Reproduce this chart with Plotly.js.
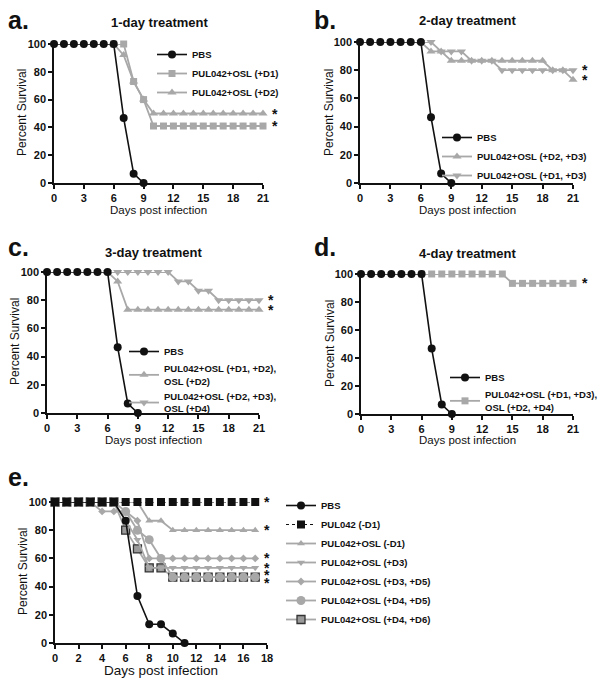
<!DOCTYPE html>
<html>
<head>
<meta charset="utf-8">
<script src="https://cdn.plot.ly/plotly-3.0.1.min.js"></script>
<style>
	html, body { margin: 0; padding: 0; background: #fff; }
	#plot { width: 604px; height: 688px; }
</style>
</head>
<body>
<div id="plot"></div>
<script>
// Curvas de supervivencia (paneles a-e) con Plotly.js
(function(){
	const W = 604, H = 688;
	const FONT = 'Arial, "Liberation Sans", sans-serif';
	const BLACK = '#111111';
	const GRAY = '#a8a8a8';

	// ---- panel a: 1-day treatment
	const daysPbs = [0, 1, 2, 3, 4, 5, 6, 7, 8, 9];
	const pbsSurv = [100, 100, 100, 100, 100, 100, 100, 46.7, 6.7, 0];
	const daysTrt = [6, 7, 8, 9, 10, 11, 12, 13, 14, 15, 16, 17, 18, 19, 20, 21];
	const aD1 = [100, 100, 73, 60, 41, 41, 41, 41, 41, 41, 41, 41, 41, 41, 41, 41];
	const aD2 = [100, 92, 73, 60, 50, 50, 50, 50, 50, 50, 50, 50, 50, 50, 50, 50];

	// ---- panel b: 2-day treatment
	const bD2D3 = [100, 93.3, 93.3, 86.7, 86.7, 86.7, 86.7, 86.7, 86.7, 86.7, 86.7, 86.7, 86.7, 80, 80, 73.3];
	const bD1D3 = [100, 100, 93.3, 93.3, 93.3, 86.7, 86.7, 86.7, 80, 80, 80, 80, 80, 80, 80, 80];

	// ---- panel c: 3-day treatment
	const cD1D2 = [100, 93.3, 73.3, 73.3, 73.3, 73.3, 73.3, 73.3, 73.3, 73.3, 73.3, 73.3, 73.3, 73.3, 73.3, 73.3];
	const cD2D3 = [100, 100, 100, 100, 100, 100, 100, 93.3, 93.3, 86.7, 86.7, 80, 80, 80, 80, 80];

	// ---- panel d: 4-day treatment
	const dD1D3 = [100, 100, 100, 100, 100, 100, 100, 100, 100, 93.3, 93.3, 93.3, 93.3, 93.3, 93.3, 93.3];

	// ---- panel e
	const daysE = [0, 1, 2, 3, 4, 5, 6, 7, 8, 9, 10, 11, 12, 13, 14, 15, 16, 17];
	const daysEPbs = [0, 1, 2, 3, 4, 5, 6, 7, 8, 9, 10, 11];
	const ePbs = [100, 100, 100, 100, 100, 100, 86.7, 33.3, 13.3, 13.3, 6.7, 0];
	const ePul = [100, 100, 100, 100, 100, 100, 100, 100, 100, 100, 100, 100, 100, 100, 100, 100, 100, 100];
	const eOslM1 = [100, 100, 100, 100, 100, 100, 100, 100, 86.7, 86.7, 80, 80, 80, 80, 80, 80, 80, 80];
	const eD3 = [100, 100, 100, 100, 100, 100, 86.7, 73.3, 53.3, 53.3, 53.3, 53.3, 53.3, 53.3, 53.3, 53.3, 53.3, 53.3];
	const eD3D5 = [100, 100, 100, 100, 93.3, 93.3, 93.3, 86.7, 60, 60, 60, 60, 60, 60, 60, 60, 60, 60];
	const eD4D5 = [100, 100, 100, 100, 100, 100, 93.3, 80, 73.3, 60, 46.7, 46.7, 46.7, 46.7, 46.7, 46.7, 46.7, 46.7];
	const eD4D6 = [100, 100, 100, 100, 100, 100, 80, 66.7, 53.3, 53.3, 46.7, 46.7, 46.7, 46.7, 46.7, 46.7, 46.7, 46.7];

	// pixel helpers
	function dx(x0, x1){ return [x0 / W, x1 / W]; }
	function dy(top, bottom){ return [1 - bottom / H, 1 - top / H]; }

	function makeX(dom, max, dtick, anchor){
		return {
			domain: dom, range: [0, max], dtick: dtick, tick0: 0, anchor: anchor,
			showline: true, linecolor: BLACK, linewidth: 1.5, mirror: false,
			ticks: 'outside', ticklen: 4, tickwidth: 1.5, tickcolor: BLACK,
			showgrid: false, zeroline: false, fixedrange: true,
			tickfont: {family: FONT, size: 11, color: BLACK, weight: 'bold'}
		};
	}
	function makeY(dom, anchor){
		return {
			domain: dom, range: [0, 100], dtick: 20, tick0: 0, anchor: anchor,
			showline: true, linecolor: BLACK, linewidth: 1.5,
			ticks: 'outside', ticklen: 4, tickwidth: 1.5, tickcolor: BLACK,
			showgrid: false, zeroline: false, fixedrange: true,
			tickfont: {family: FONT, size: 11, color: BLACK, weight: 'bold'}
		};
	}

	function series(x, y, name, n, legend, rank, mk, ln){
		return {
			x: x, y: y, name: name, type: 'scatter', mode: 'lines+markers',
			xaxis: n === 1 ? 'x' : 'x' + n, yaxis: n === 1 ? 'y' : 'y' + n,
			legend: legend, legendrank: rank, cliponaxis: false,
			line: Object.assign({color: GRAY, width: 1.8}, ln || {}),
			marker: mk, hoverinfo: 'x+y+name'
		};
	}
	const pbsMk = {symbol: 'circle', size: 8, color: BLACK};
	const pbsLn = {color: BLACK, width: 1.6};
	const sqMk = {symbol: 'square', size: 7, color: GRAY};
	const upMk = {symbol: 'triangle-up', size: 8, color: GRAY};
	const dnMk = {symbol: 'triangle-down', size: 8, color: GRAY};

	const traces = [
		// a
		series(daysTrt, aD2, 'PUL042+OSL (+D2)', 1, 'legend', 3, upMk),
		series(daysTrt, aD1, 'PUL042+OSL (+D1)', 1, 'legend', 2, sqMk),
		series(daysPbs, pbsSurv, 'PBS', 1, 'legend', 1, pbsMk, pbsLn),
		// b
		series(daysTrt, bD1D3, 'PUL042+OSL (+D1, +D3)', 2, 'legend2', 3, dnMk),
		series(daysTrt, bD2D3, 'PUL042+OSL (+D2, +D3)', 2, 'legend2', 2, upMk),
		series(daysPbs, pbsSurv, 'PBS', 2, 'legend2', 1, pbsMk, pbsLn),
		// c
		series(daysTrt, cD2D3, 'PUL042+OSL (+D2, +D3),<br>OSL (+D4)', 3, 'legend3', 3, dnMk),
		series(daysTrt, cD1D2, 'PUL042+OSL (+D1, +D2),<br>OSL (+D2)', 3, 'legend3', 2, upMk),
		series(daysPbs, pbsSurv, 'PBS', 3, 'legend3', 1, pbsMk, pbsLn),
		// d
		series(daysTrt, dD1D3, 'PUL042+OSL (+D1, +D3),<br>OSL (+D2, +D4)', 4, 'legend4', 2, sqMk),
		series(daysPbs, pbsSurv, 'PBS', 4, 'legend4', 1, pbsMk, pbsLn),
		// e
		series(daysE, eD4D6, 'PUL042+OSL (+D4, +D6)', 5, 'legend5', 7,
			{symbol: 'square', size: 8, color: '#9a9a9a', line: {color: '#333333', width: 1.3}}),
		series(daysE, eD4D5, 'PUL042+OSL (+D4, +D5)', 5, 'legend5', 6, {symbol: 'circle', size: 9, color: GRAY}),
		series(daysE, eD3D5, 'PUL042+OSL (+D3, +D5)', 5, 'legend5', 5, {symbol: 'diamond', size: 6, color: GRAY}),
		series(daysE, eD3, 'PUL042+OSL (+D3)', 5, 'legend5', 4, {symbol: 'triangle-down', size: 7, color: GRAY}),
		series(daysE, eOslM1, 'PUL042+OSL (-D1)', 5, 'legend5', 3, {symbol: 'triangle-up', size: 7, color: GRAY}),
		series(daysEPbs, ePbs, 'PBS', 5, 'legend5', 1, pbsMk, pbsLn),
		series(daysE, ePul, 'PUL042 (-D1)', 5, 'legend5', 2, {symbol: 'square', size: 8, color: BLACK}, {color: BLACK, width: 1, dash: '3px,3px'})
	];

	function legendAt(x, top){
		return {
			x: x / W, y: 1 - top / H, xanchor: 'left', yanchor: 'top',
			bgcolor: 'rgba(0,0,0,0)', borderwidth: 0, itemwidth: 30,
			traceorder: 'normal', tracegroupgap: 0,
			font: {family: FONT, size: 9.5, color: BLACK, weight: 'bold'}
		};
	}

	// text annotations: panel letters, titles, axis titles, asterisks
	const annotations = [];
	function txt(x, y, text, size, opts){
		annotations.push(Object.assign({
			xref: 'paper', yref: 'paper', x: x / W, y: 1 - y / H, text: text,
			showarrow: false, xanchor: 'center', yanchor: 'middle',
			font: {family: FONT, size: size, color: BLACK}
		}, opts || {}));
	}
	const bold = (s) => ({font: {family: FONT, size: s, color: BLACK, weight: 'bold'}});

	const panelLetters = ['a.', 'b.', 'c.', 'd.', 'e.'];
	const letterPos = [[6, 20], [312, 20], [6, 247], [312, 247], [6, 477]];
	panelLetters.forEach((l, i) => txt(letterPos[i][0], letterPos[i][1], l, 25, Object.assign({xanchor: 'left'}, bold(25))));

	const titles = ['1-day treatment', '2-day treatment', '3-day treatment', '4-day treatment'];
	const titlePos = [[159, 23], [467, 20], [153, 252], [467, 253]];
	titles.forEach((t, i) => txt(titlePos[i][0], titlePos[i][1], t, 13, bold(13)));

	// x titles: a-d smaller than e
	const xTitlePos = [[158, 210], [467, 210], [153, 440], [467, 440]];
	xTitlePos.forEach(p => txt(p[0], p[1], 'Days post infection', 11.5));
	txt(161, 670, 'Days post infection', 13.5);
	const yTitlePos = [[22, 113], [329, 112], [15, 342], [330, 344], [23, 572]];
	yTitlePos.forEach(p => txt(p[0], p[1], 'Percent Survival', 12, {textangle: -90}));

	// asterisks next to treated curves
	const starPanels = [1, 1, 2, 2, 3, 3, 4, 5, 5, 5, 5, 5, 5];
	const starX = [21, 21, 21, 21, 21, 21, 21, 17, 17, 17, 17, 17, 17];
	const starY = [50, 41, 80, 73.3, 80, 73.3, 93.3, 100, 80, 60, 53.3, 48, 42.5];
	starY.forEach((v, i) => {
		const n = starPanels[i];
		annotations.push({
			xref: n === 1 ? 'x' : 'x' + n, yref: n === 1 ? 'y' : 'y' + n,
			x: starX[i], y: v, text: '*', showarrow: false,
			xanchor: 'center', yanchor: 'middle', xshift: 12, yshift: 0,
			font: {family: FONT, size: 14, color: BLACK, weight: 'bold'}
		});
	});

	const layout = {
		width: W, height: H,
		margin: {l: 0, r: 0, t: 0, b: 0},
		paper_bgcolor: '#ffffff', plot_bgcolor: 'rgba(0,0,0,0)',
		showlegend: true, hovermode: 'closest',
		font: {family: FONT, color: BLACK},
		xaxis: makeX(dx(54, 263), 21, 3, 'y'),
		yaxis: makeY(dy(44, 183), 'x'),
		xaxis2: makeX(dx(360, 573), 21, 3, 'y2'),
		yaxis2: makeY(dy(42, 183), 'x2'),
		xaxis3: makeX(dx(47, 259), 21, 3, 'y3'),
		yaxis3: makeY(dy(272, 413), 'x3'),
		xaxis4: makeX(dx(361, 573), 21, 3, 'y4'),
		yaxis4: makeY(dy(274, 414), 'x4'),
		xaxis5: makeX(dx(55, 267), 18, 2, 'y5'),
		yaxis5: makeY(dy(502, 643), 'x5'),
		legend: legendAt(152, 40),
		legend2: legendAt(437, 123),
		legend3: legendAt(124, 337),
		legend4: legendAt(445, 363),
		legend5: legendAt(281, 491),
		annotations: annotations
	};

	Plotly.newPlot('plot', traces, layout, {displayModeBar: false});
})();
</script>
</body>
</html>
